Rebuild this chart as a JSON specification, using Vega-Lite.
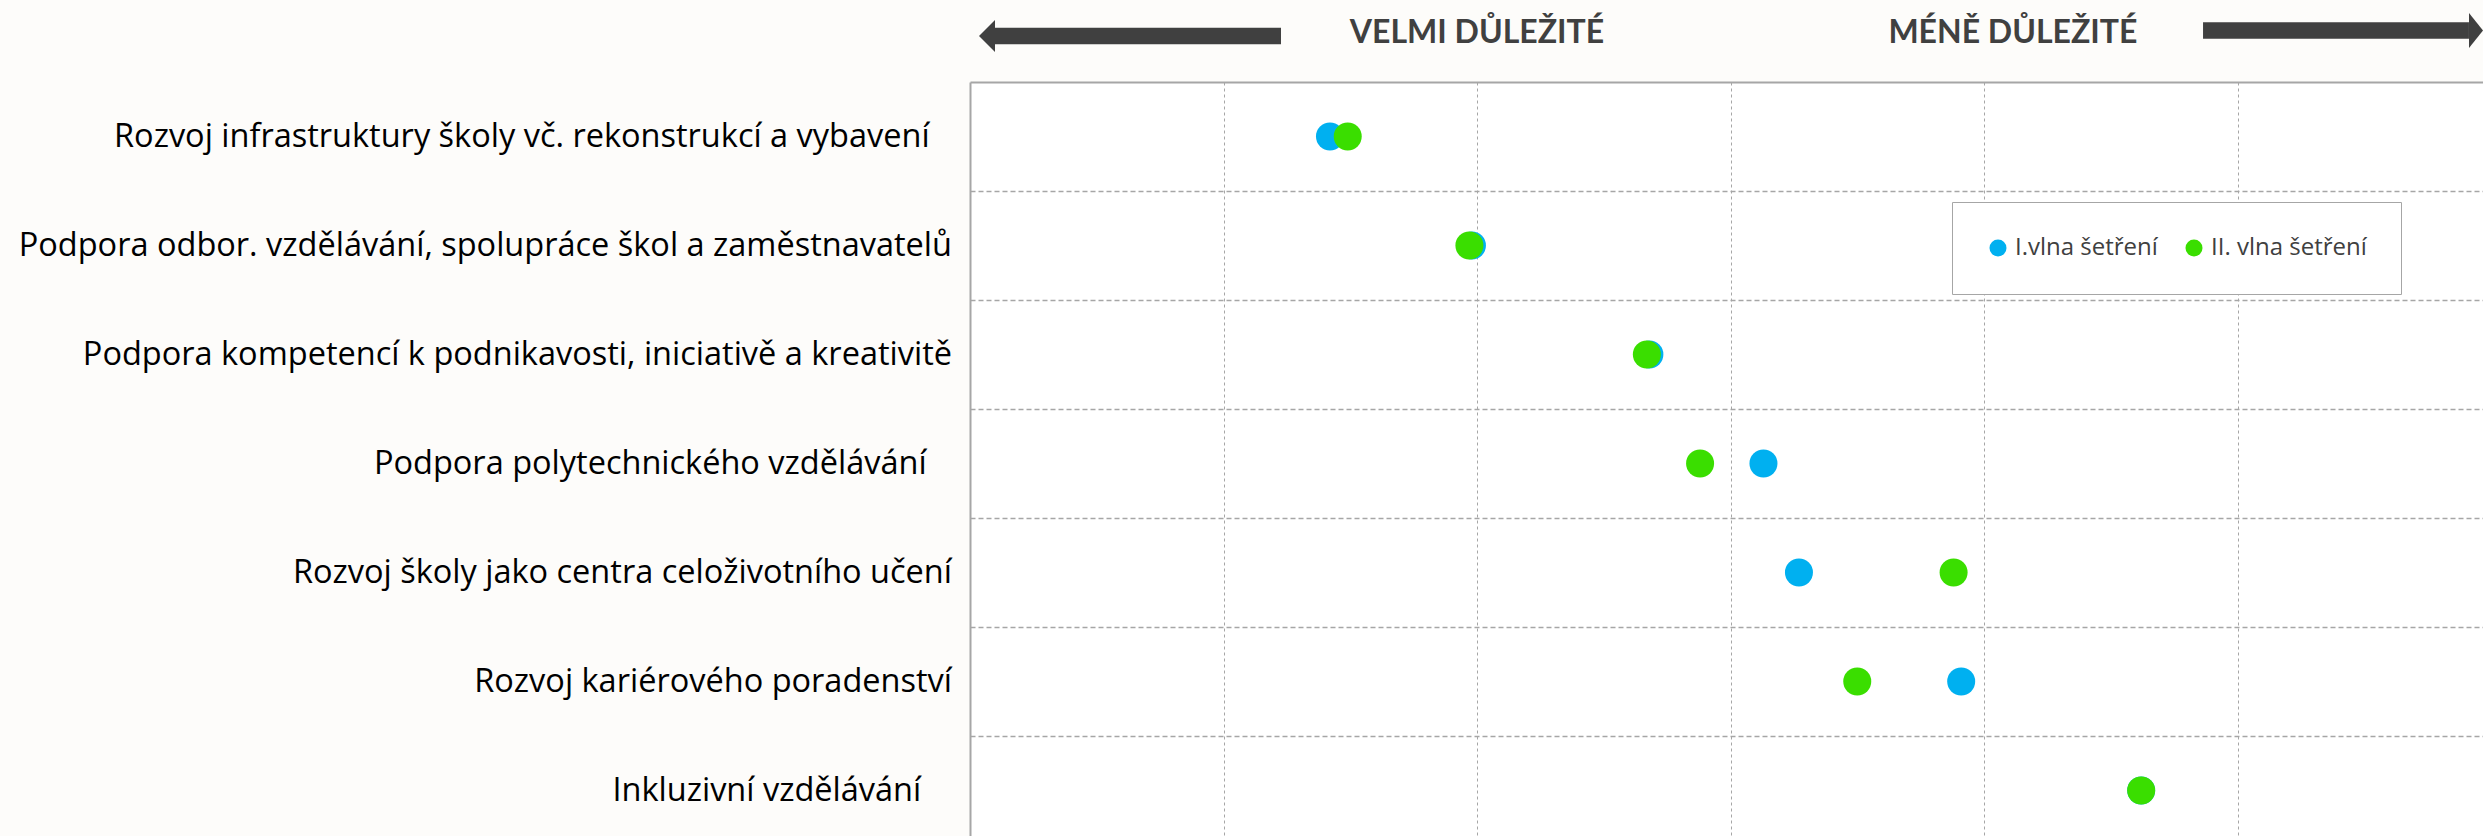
{
  "$schema": "https://vega.github.io/schema/vega-lite/v6.json",
  "autosize": {"type": "none"},
  "padding": {"left": 970, "top": 82, "right": 0, "bottom": 0},
  "width": 1513,
  "height": 754,
  "background": "#FDFCFA",
  "config": {
    "view": {"fill": "white", "stroke": null},
    "axis": {"labels": false, "ticks": false, "title": null, "domain": true, "domainColor": "#A6A6A6", "domainWidth": 2, "grid": true, "gridColor": "#A6A6A6"}
  },
  "datasets": {
    "body": [
      {"oblast": "Rozvoj infrastruktury školy vč. rekonstrukcí a vybavení", "poradi": 1, "vlna": "I.vlna šetření", "prumerne_poradi": 2.42},
      {"oblast": "Podpora odbor. vzdělávání, spolupráce škol a zaměstnavatelů", "poradi": 2, "vlna": "I.vlna šetření", "prumerne_poradi": 2.98},
      {"oblast": "Podpora kompetencí k podnikavosti, iniciativě a kreativitě", "poradi": 3, "vlna": "I.vlna šetření", "prumerne_poradi": 3.68},
      {"oblast": "Podpora polytechnického vzdělávání", "poradi": 4, "vlna": "I.vlna šetření", "prumerne_poradi": 4.13},
      {"oblast": "Rozvoj školy jako centra celoživotního učení", "poradi": 5, "vlna": "I.vlna šetření", "prumerne_poradi": 4.27},
      {"oblast": "Rozvoj kariérového poradenství", "poradi": 6, "vlna": "I.vlna šetření", "prumerne_poradi": 4.91},
      {"oblast": "Inkluzivní vzdělávání", "poradi": 7, "vlna": "I.vlna šetření", "prumerne_poradi": 5.62},
      {"oblast": "Rozvoj infrastruktury školy vč. rekonstrukcí a vybavení", "poradi": 1, "vlna": "II. vlna šetření", "prumerne_poradi": 2.49},
      {"oblast": "Podpora odbor. vzdělávání, spolupráce škol a zaměstnavatelů", "poradi": 2, "vlna": "II. vlna šetření", "prumerne_poradi": 2.97},
      {"oblast": "Podpora kompetencí k podnikavosti, iniciativě a kreativitě", "poradi": 3, "vlna": "II. vlna šetření", "prumerne_poradi": 3.67},
      {"oblast": "Podpora polytechnického vzdělávání", "poradi": 4, "vlna": "II. vlna šetření", "prumerne_poradi": 3.88},
      {"oblast": "Rozvoj školy jako centra celoživotního učení", "poradi": 5, "vlna": "II. vlna šetření", "prumerne_poradi": 4.88},
      {"oblast": "Rozvoj kariérového poradenství", "poradi": 6, "vlna": "II. vlna šetření", "prumerne_poradi": 4.50},
      {"oblast": "Inkluzivní vzdělávání", "poradi": 7, "vlna": "II. vlna šetření", "prumerne_poradi": 5.62}
    ],
    "oblasti": [
      {"oblast": "Rozvoj infrastruktury školy vč. rekonstrukcí a vybavení\u00a0\u00a0\u2006\u200b", "poradi": 1},
      {"oblast": "Podpora odbor. vzdělávání, spolupráce škol a zaměstnavatelů", "poradi": 2},
      {"oblast": "Podpora kompetencí k podnikavosti, iniciativě a kreativitě", "poradi": 3},
      {"oblast": "Podpora polytechnického vzdělávání\u00a0\u00a0\u00a0\u200b", "poradi": 4},
      {"oblast": "Rozvoj školy jako centra celoživotního učení", "poradi": 5},
      {"oblast": "Rozvoj kariérového poradenství", "poradi": 6},
      {"oblast": "Inkluzivní vzdělávání\u00a0\u00a0\u00a0\u2006\u200b", "poradi": 7}
    ],
    "nadpisy": [
      {"text": "VELMI DŮLEŽITÉ", "x": 3.0, "y": 0.142},
      {"text": "MÉNĚ DŮLEŽITÉ", "x": 5.114, "y": 0.142}
    ],
    "sipky": [
      {"smer": "vlevo", "hrot": 1.0355, "zacatek": 1.0986, "konec": 2.2268, "y": 0.078},
      {"smer": "vpravo", "hrot": 6.9684, "zacatek": 6.913, "konec": 5.864, "y": 0.0275}
    ]
  },
  "layer": [
    {
      "data": {"name": "body"},
      "mark": {"type": "point", "filled": true, "size": 784, "opacity": 1, "strokeWidth": 0},
      "encoding": {
        "x": {
          "field": "prumerne_poradi", "type": "quantitative", "title": null,
          "scale": {"domain": [1, 6.9684], "nice": false, "zero": false},
          "axis": {"orient": "top", "values": [2, 3, 4, 5, 6], "gridDash": [3, 3], "gridWidth": 1}
        },
        "y": {
          "field": "poradi", "type": "quantitative", "title": null,
          "scale": {"domain": [0.5, 7.4174], "nice": false, "zero": false, "reverse": true},
          "axis": {"orient": "left", "values": [1.5, 2.5, 3.5, 4.5, 5.5, 6.5], "gridDash": [5, 3], "gridWidth": 1.5}
        },
        "color": {
          "field": "vlna", "type": "nominal",
          "scale": {"domain": ["I.vlna šetření", "II. vlna šetření"], "range": ["#00B0F0", "#3ADE00"]},
          "legend": {
            "orient": "none", "legendX": 982, "legendY": 120, "direction": "horizontal",
            "title": null, "symbolType": "circle", "symbolSize": 289, "symbolOpacity": 1,
            "symbolStrokeWidth": 0, "labelFont": "Open Sans", "labelFontSize": 24,
            "labelColor": "#404040", "labelOffset": 5, "columnPadding": 24,
            "fillColor": "white", "strokeColor": "#A6A6A6", "padding": 34
          }
        }
      }
    },
    {
      "data": {"name": "oblasti"},
      "mark": {"type": "text", "align": "right", "baseline": "middle", "dx": -18, "font": "Open Sans", "fontSize": 32.5, "color": "#000000"},
      "encoding": {
        "x": {"datum": 1, "type": "quantitative", "title": null, "scale": {"domain": [1, 6.9684], "nice": false, "zero": false}},
        "y": {"field": "poradi", "type": "quantitative", "title": null, "scale": {"domain": [0.5, 7.4174], "nice": false, "zero": false, "reverse": true}},
        "text": {"field": "oblast"}
      }
    },
    {
      "data": {"name": "nadpisy"},
      "mark": {"type": "text", "align": "center", "baseline": "alphabetic", "font": "Lato", "fontWeight": "bold", "fontSize": 32, "color": "#404040"},
      "encoding": {
        "x": {"field": "x", "type": "quantitative", "title": null, "scale": {"domain": [1, 6.9684], "nice": false, "zero": false}},
        "y": {"field": "y", "type": "quantitative", "title": null, "scale": {"domain": [0.5, 7.4174], "nice": false, "zero": false, "reverse": true}},
        "text": {"field": "text"}
      }
    },
    {
      "data": {"name": "sipky"},
      "mark": {"type": "rule", "strokeWidth": 16.5, "color": "#404040", "strokeCap": "butt"},
      "encoding": {
        "x": {"field": "zacatek", "type": "quantitative", "title": null, "scale": {"domain": [1, 6.9684], "nice": false, "zero": false}},
        "x2": {"field": "konec"},
        "y": {"field": "y", "type": "quantitative", "title": null, "scale": {"domain": [0.5, 7.4174], "nice": false, "zero": false, "reverse": true}}
      }
    },
    {
      "data": {"name": "sipky"},
      "transform": [{"filter": "datum.smer == 'vlevo'"}],
      "mark": {"type": "point", "filled": true, "opacity": 1, "color": "#404040", "shape": "M0,0L1,-1L1,1Z", "size": 1024, "strokeWidth": 0},
      "encoding": {
        "x": {"field": "hrot", "type": "quantitative", "title": null, "scale": {"domain": [1, 6.9684], "nice": false, "zero": false}},
        "y": {"field": "y", "type": "quantitative", "title": null, "scale": {"domain": [0.5, 7.4174], "nice": false, "zero": false, "reverse": true}}
      }
    },
    {
      "data": {"name": "sipky"},
      "transform": [{"filter": "datum.smer == 'vpravo'"}],
      "mark": {"type": "point", "filled": true, "opacity": 1, "color": "#404040", "shape": "M0,0L-0.8,-1L-0.8,1Z", "size": 1225, "strokeWidth": 0},
      "encoding": {
        "x": {"field": "hrot", "type": "quantitative", "title": null, "scale": {"domain": [1, 6.9684], "nice": false, "zero": false}},
        "y": {"field": "y", "type": "quantitative", "title": null, "scale": {"domain": [0.5, 7.4174], "nice": false, "zero": false, "reverse": true}}
      }
    }
  ]
}
